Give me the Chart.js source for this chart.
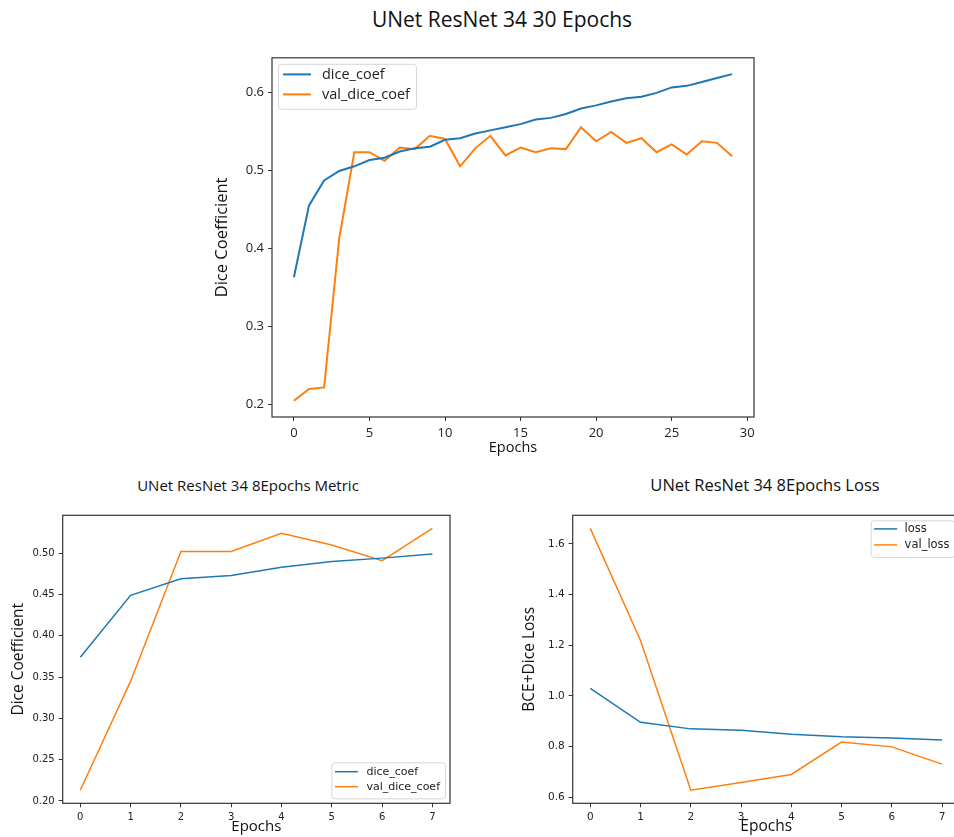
<!DOCTYPE html>
<html>
<head>
<meta charset="utf-8">
<title>UNet ResNet 34 training curves</title>
<script src="https://cdn.jsdelivr.net/npm/chart.js@4.4.1/dist/chart.umd.min.js"></script>
<style>
  html, body { margin: 0; padding: 0; background: #fff; width: 954px; height: 837px; overflow: hidden; }
  canvas { position: absolute; }
  .title { position: absolute; text-align: center; font-family: "Open Sans"; color: #111; white-space: nowrap; }
</style>
</head>
<body>
<div class="title" style="left:0;width:1004px;top:5px;font-size:21px;line-height:28px;">UNet ResNet 34 30 Epochs</div>
<div class="title" style="left:0;width:496px;top:474px;font-size:15px;line-height:22px;">UNet ResNet 34 8Epochs Metric</div>
<div class="title" style="left:530px;width:470px;top:474px;font-size:16.5px;line-height:22px;">UNet ResNet 34 8Epochs Loss</div>

<canvas id="run30" width="570" height="414" style="left:200px;top:46px"></canvas>
<canvas id="metric8" width="470" height="332" style="left:0px;top:505px"></canvas>
<canvas id="loss8" width="459" height="332" style="left:511px;top:505px"></canvas>

<script>
// 30 epoch run
const epochs30 = [0, 1, 2, 3, 4, 5, 6, 7, 8, 9, 10, 11, 12, 13, 14, 15, 16, 17, 18, 19, 20, 21, 22, 23, 24, 25, 26, 27, 28, 29];
const diceCoef30 = [0.363, 0.455, 0.487, 0.499, 0.505, 0.513, 0.516, 0.524, 0.528, 0.530,
                    0.539, 0.541, 0.547, 0.551, 0.555, 0.559, 0.565, 0.567, 0.572, 0.579,
                    0.583, 0.588, 0.592, 0.594, 0.599, 0.606, 0.608, 0.613, 0.618, 0.623];
const valDiceCoef30 = [0.205, 0.220, 0.222, 0.413, 0.523, 0.523, 0.512, 0.529, 0.527, 0.544,
                       0.540, 0.505, 0.528, 0.544, 0.519, 0.529, 0.523, 0.528, 0.527, 0.555,
                       0.537, 0.549, 0.535, 0.541, 0.523, 0.533, 0.520, 0.537, 0.535, 0.518];
const ticksX30 = [0, 5, 10, 15, 20, 25, 30];
const ticksY30 = [0.2, 0.3, 0.4, 0.5, 0.6];

// 8 epoch run
const epochs8 = [0, 1, 2, 3, 4, 5, 6, 7];
const diceCoef8 = [0.374, 0.449, 0.469, 0.473, 0.483, 0.490, 0.494, 0.499];
const valDiceCoef8 = [0.213, 0.345, 0.502, 0.502, 0.524, 0.510, 0.491, 0.530];
const loss8 = [1.030, 0.896, 0.870, 0.865, 0.849, 0.839, 0.834, 0.826];
const valLoss8 = [1.661, 1.219, 0.628, 0.658, 0.690, 0.818, 0.799, 0.731];
const ticksX8 = [0, 1, 2, 3, 4, 5, 6, 7];
const ticksMetric8 = [0.20, 0.25, 0.30, 0.35, 0.40, 0.45, 0.50];
const ticksLoss8 = [0.6, 0.8, 1.0, 1.2, 1.4, 1.6];

const BLUE = '#1f77b4';
const ORANGE = '#ff7f0e';

// matplotlib style: 5% margin around the data
function padRange(values) {
  const lo = Math.min(...values), hi = Math.max(...values);
  const m = (hi - lo) * 0.05;
  return [lo - m, hi + m];
}

function points(xs, ys) {
  return xs.map((x, i) => ({ x: x, y: ys[i] }));
}

// box around the plot area
const axesFrame = {
  id: 'axesFrame',
  afterDatasetsDraw(chart) {
    const { ctx, chartArea: a } = chart;
    ctx.save();
    ctx.strokeStyle = '#333';
    ctx.lineWidth = 1.2;
    ctx.strokeRect(a.left, a.top, a.right - a.left, a.bottom - a.top);
    ctx.restore();
  }
};

// legend drawn inside the axes, like plt.legend()
const innerLegend = {
  id: 'innerLegend',
  afterDatasetsDraw(chart, args, o) {
    const { ctx, chartArea: a } = chart;
    const sets = chart.data.datasets;
    ctx.save();
    ctx.font = o.font;
    const textW = Math.max(...sets.map(d => ctx.measureText(d.label).width));
    const w = o.padL + o.sample + o.gap + textW + o.padR;
    const h = o.first + o.rowH * (sets.length - 1) + o.last;
    const x = o.loc.includes('right') ? a.right - o.inset - w : a.left + o.inset;
    const y = o.loc.includes('lower') ? a.bottom - o.inset - h : a.top + o.inset;
    ctx.fillStyle = 'rgba(255,255,255,0.8)';
    ctx.strokeStyle = '#d6d6d6';
    ctx.lineWidth = 1;
    ctx.beginPath();
    ctx.roundRect(x + 0.5, y + 0.5, w, h, 3);
    ctx.fill();
    ctx.stroke();
    ctx.textBaseline = 'middle';
    sets.forEach((d, i) => {
      const cy = y + o.first + o.rowH * i;
      ctx.strokeStyle = d.borderColor;
      ctx.lineWidth = d.borderWidth;
      ctx.beginPath();
      ctx.moveTo(x + o.padL, cy);
      ctx.lineTo(x + o.padL + o.sample, cy);
      ctx.stroke();
      ctx.fillStyle = '#222';
      ctx.fillText(d.label, x + o.padL + o.sample + o.gap, cy + o.textShift);
    });
    ctx.restore();
  }
};

function makeChart(id, s) {
  const [xMin, xMax] = padRange(s.xs);
  const [yMin, yMax] = padRange(s.series.flatMap(d => d.values));
  return new Chart(document.getElementById(id), {
    type: 'line',
    data: {
      datasets: s.series.map(d => ({
        label: d.label,
        data: points(s.xs, d.values),
        borderColor: d.color,
        backgroundColor: d.color,
        borderWidth: s.lineWidth,
        pointRadius: 0,
        tension: 0
      }))
    },
    options: {
      responsive: false,
      animation: false,
      layout: { padding: s.padding },
      plugins: {
        legend: { display: false },
        tooltip: { enabled: false },
        innerLegend: s.legend
      },
      scales: {
        x: {
          type: 'linear',
          min: xMin,
          max: xMax,
          afterBuildTicks: ax => { ax.ticks = s.ticksX.map(v => ({ value: v })); },
          afterFit: ax => { ax.height = s.xAxisH; },
          grid: { drawOnChartArea: false, drawTicks: true, tickLength: s.tickLen, color: '#333' },
          border: { display: false },
          ticks: { font: s.tickFont, color: '#222', padding: s.tickPad, maxRotation: 0, autoSkip: false,
                   callback: v => String(v) },
          title: { display: true, text: 'Epochs', font: s.xTitleFont, color: '#111',
                   padding: { top: 0, bottom: s.xTitlePad } }
        },
        y: {
          min: yMin,
          max: yMax,
          afterBuildTicks: ax => { ax.ticks = s.ticksY.map(v => ({ value: v })); },
          afterFit: ax => { ax.width = s.yAxisW; },
          grid: { drawOnChartArea: false, drawTicks: true, tickLength: s.tickLen, color: '#333' },
          border: { display: false },
          ticks: { font: s.tickFont, color: '#222', padding: s.tickPad, autoSkip: false,
                   callback: v => v.toFixed(s.yDigits) },
          title: { display: true, text: s.yTitle, font: s.yTitleFont, color: '#111',
                   padding: { top: s.yTitlePad, bottom: 0 } }
        }
      }
    },
    plugins: [axesFrame, innerLegend]
  });
}

makeChart('run30', {
  xs: epochs30,
  series: [
    { label: 'dice_coef', values: diceCoef30, color: BLUE },
    { label: 'val_dice_coef', values: valDiceCoef30, color: ORANGE }
  ],
  lineWidth: 2,
  ticksX: ticksX30, ticksY: ticksY30, yDigits: 1,
  padding: { top: 10, right: 16, bottom: 0, left: 0 },
  xAxisH: 43, yAxisW: 72,
  tickLen: 4, tickPad: 4,
  tickFont: { family: 'Open Sans', size: 13 },
  xTitleFont: { family: 'Open Sans', size: 14.5 }, xTitlePad: 3,
  yTitle: 'Dice Coefficient', yTitleFont: { family: 'Open Sans', size: 16.5 }, yTitlePad: 12,
  legend: { loc: 'upper left', font: '14.5px "Open Sans"', inset: 6, padL: 5, padR: 6,
            sample: 28, gap: 11, first: 10.6, rowH: 20, last: 14.4, textShift: 0 }
});

makeChart('metric8', {
  xs: epochs8,
  series: [
    { label: 'dice_coef', values: diceCoef8, color: BLUE },
    { label: 'val_dice_coef', values: valDiceCoef8, color: ORANGE }
  ],
  lineWidth: 1.5,
  ticksX: ticksX8, ticksY: ticksMetric8, yDigits: 2,
  padding: { top: 10.3, right: 20, bottom: 0, left: 0 },
  xAxisH: 33.7, yAxisW: 62.7,
  tickLen: 4, tickPad: 4,
  tickFont: { family: 'DejaVu Sans', size: 10 },
  xTitleFont: { family: 'Open Sans', size: 15 }, xTitlePad: 1,
  yTitle: 'Dice Coefficient', yTitleFont: { family: 'Open Sans', size: 15.5 }, yTitlePad: 9,
  legend: { loc: 'lower right', font: '11px "DejaVu Sans"', inset: 5, padL: 3.5, padR: 5,
            sample: 23, gap: 8.5, first: 9.4, rowH: 15, last: 11.6, textShift: 0 }
});

makeChart('loss8', {
  xs: epochs8,
  series: [
    { label: 'loss', values: loss8, color: BLUE },
    { label: 'val_loss', values: valLoss8, color: ORANGE }
  ],
  lineWidth: 1.5,
  ticksX: ticksX8, ticksY: ticksLoss8, yDigits: 1,
  padding: { top: 10.3, right: 10.4, bottom: 0, left: 0 },
  xAxisH: 33.7, yAxisW: 61.7,
  tickLen: 4, tickPad: 4,
  tickFont: { family: 'DejaVu Sans', size: 10.5 },
  xTitleFont: { family: 'Open Sans', size: 15.5 }, xTitlePad: 1,
  yTitle: 'BCE+Dice Loss', yTitleFont: { family: 'Open Sans', size: 15.5 }, yTitlePad: 9.5,
  legend: { loc: 'upper right', font: '11.5px "DejaVu Sans"', inset: 5, padL: 3.5, padR: 5,
            sample: 23, gap: 7.5, first: 8.6, rowH: 16, last: 12, textShift: 0 }
});
</script>
</body>
</html>
